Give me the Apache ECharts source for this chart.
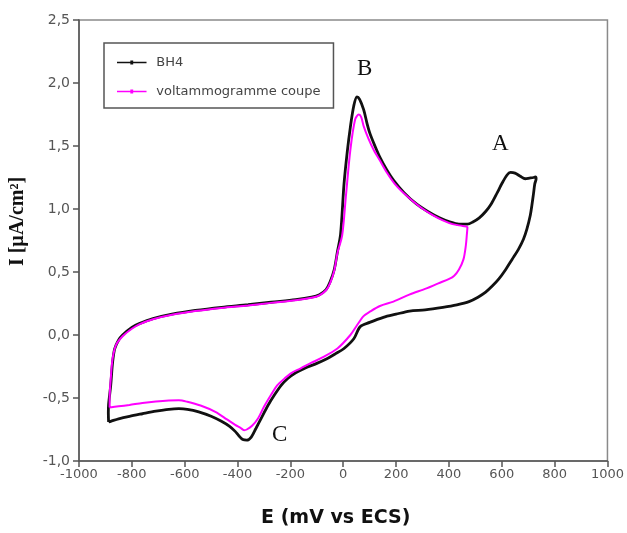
<!DOCTYPE html>
<html><head><meta charset="utf-8">
<script src="https://cdn.jsdelivr.net/npm/echarts@6/dist/echarts.min.js"></script>
<style>html,body{margin:0;padding:0;background:#fff}#c{width:627px;height:533px}</style>
</head><body><div id="c"></div>
<script>
// ---- data (E in mV vs ECS, I in µA/cm²) ----
const seriesNames = ['BH4', 'voltammogramme coupe'];
const bh4E = [-888,-889,-888,-880,-873,-865,-850,-835,-800,-772,-720,-648,-560,-461,-360,-273,-180,-120,-90,-65,-50,-34,-22,-10,3,15,27,40,52,62,77,90,101,120,139,165,190,230,277,320,364,400,438,470,489,515,539,560,583,600,620,633,650,670,689,705,720,727,730,
  725,720,714,708,695,682,663,639,615,589,565,539,510,476,430,377,310,251,200,152,100,64,40,3,-30,-60,-100,-147,-180,-210,-235,-260,-285,-310,-330,-348,-365,-380,-395,-409,-430,-461,-500,-547,-590,-622,-660,-709,-760,-809,-850,-880,-888];
const bh4I = [-0.69,-0.62,-0.55,-0.40,-0.22,-0.11,-0.04,0.0,0.06,0.09,0.13,0.165,0.195,0.22,0.24,0.26,0.28,0.30,0.32,0.36,0.42,0.52,0.66,0.80,1.20,1.45,1.65,1.82,1.89,1.87,1.79,1.68,1.60,1.50,1.41,1.31,1.23,1.13,1.04,0.98,0.93,0.90,0.88,0.88,0.895,0.93,0.98,1.04,1.13,1.20,1.27,1.29,1.285,1.26,1.24,1.245,1.25,1.255,1.24,
  1.20,1.12,1.03,0.95,0.84,0.76,0.68,0.60,0.52,0.445,0.39,0.34,0.30,0.265,0.24,0.22,0.20,0.19,0.165,0.14,0.10,0.066,-0.03,-0.107,-0.15,-0.186,-0.225,-0.265,-0.30,-0.345,-0.40,-0.475,-0.56,-0.66,-0.74,-0.81,-0.835,-0.83,-0.80,-0.765,-0.725,-0.685,-0.645,-0.61,-0.59,-0.585,-0.59,-0.605,-0.625,-0.645,-0.665,-0.685,-0.69];
const coupeE = [-884,-884,-880,-873,-860,-835,-800,-772,-720,-648,-560,-461,-360,-273,-180,-120,-90,-65,-50,-34,-22,-4,10,27,45,59,68,77,95,115,140,165,195,227,265,302,340,377,414,452,470,
  468,464,455,438,420,401,360,315,250,190,139,101,77,52,27,-22,-86,-120,-161,-195,-222,-250,-273,-300,-322,-345,-365,-375,-390,-409,-440,-484,-540,-590,-622,-660,-709,-760,-809,-850,-884];
const coupeI = [-0.575,-0.50,-0.35,-0.19,-0.08,-0.01,0.05,0.085,0.125,0.16,0.19,0.215,0.235,0.255,0.275,0.295,0.315,0.355,0.41,0.51,0.65,0.79,1.10,1.47,1.71,1.75,1.73,1.66,1.56,1.47,1.38,1.29,1.20,1.13,1.06,1.00,0.95,0.91,0.88,0.865,0.856,
  0.80,0.71,0.60,0.52,0.47,0.445,0.41,0.37,0.32,0.265,0.23,0.185,0.15,0.077,0.0,-0.107,-0.186,-0.22,-0.265,-0.30,-0.345,-0.40,-0.475,-0.57,-0.66,-0.72,-0.75,-0.755,-0.735,-0.713,-0.67,-0.61,-0.56,-0.53,-0.518,-0.52,-0.528,-0.54,-0.555,-0.566,-0.575];
const xTicks = [-1000,-800,-600,-400,-200,0,200,400,600,800,1000];
const yTicks = [-1.0,-0.5,0.0,0.5,1.0,1.5,2.0,2.5];
const yTickLabels = ['-1,0','-0,5','0,0','0,5','1,0','1,5','2,0','2,5'];
const peakLabels = ['A','B','C'];
const xTitle = 'E (mV vs ECS)';
const yTitle = 'I [µA/cm²]';

const zip = (a, b) => a.map((v, i) => [v, b[i]]);
const chart = echarts.init(document.getElementById('c'), null, {renderer: 'canvas'});
const legendIcon = 'path://M0,1.3 L31,1.3 L31,2.9 L0,2.9 Z M14,0 L17,0 L17,4.2 L14,4.2 Z';
chart.setOption({
  animation: false,
  backgroundColor: '#fff',
  grid: {left: 79, right: 14, top: 20, bottom: 70, show: true, borderColor: '#8a8a8a', borderWidth: 1.5, backgroundColor: 'transparent'},
  xAxis: {
    type: 'value', min: xTicks[0], max: xTicks[xTicks.length - 1], interval: 200,
    axisLine: {show: true, onZero: false, lineStyle: {color: '#555', width: 1.5}},
    axisTick: {show: true, inside: false, length: 6, lineStyle: {color: '#555', width: 1.5}},
    splitLine: {show: false},
    axisLabel: {margin: 7, formatter: v => String(v), color: '#555', fontFamily: 'DejaVu Sans', fontSize: 13},
    name: xTitle, nameLocation: 'middle', nameGap: 48,
    nameTextStyle: {fontFamily: 'DejaVu Sans', fontWeight: 'bold', fontSize: 19, color: '#111', padding: [0, 15, 0, 0]}
  },
  yAxis: {
    type: 'value', min: yTicks[0], max: yTicks[yTicks.length - 1], interval: 0.5,
    axisLine: {show: true, onZero: false, lineStyle: {color: '#555', width: 1.5}},
    axisTick: {show: true, inside: false, length: 6, lineStyle: {color: '#555', width: 1.5}},
    splitLine: {show: false},
    axisLabel: {margin: 9, color: '#555', fontFamily: 'DejaVu Sans', fontSize: 14, formatter: v => {
      const i = yTicks.findIndex(t => Math.abs(t - v) < 1e-9); return i >= 0 ? yTickLabels[i] : '';
    }},
    name: yTitle, nameLocation: 'middle', nameGap: 51, nameRotate: 90,
    nameTextStyle: {fontFamily: 'Liberation Serif', fontWeight: 'bold', fontSize: 20, color: '#111', padding: [0, 0, 0, 38]}
  },
  legend: {
    orient: 'vertical', left: 104, top: 43,
    padding: [13, 13, 10, 13], itemGap: 16, itemWidth: 31, itemHeight: 4,
    borderColor: '#555', borderWidth: 1.5, borderRadius: 0, icon: legendIcon,
    textStyle: {fontFamily: 'DejaVu Sans', fontSize: 13, color: '#444', padding: [0, 0, 0, 4]},
    data: seriesNames
  },
  series: [
    {name: seriesNames[0], type: 'line', data: zip(bh4E, bh4I), smooth: 0.3, symbol: 'circle', symbolSize: 3, showSymbol: false,
     lineStyle: {color: '#111', width: 2.8}, itemStyle: {color: '#111'}, z: 2},
    {name: seriesNames[1], type: 'line', data: zip(coupeE, coupeI), smooth: 0.3, symbol: 'circle', symbolSize: 3, showSymbol: false,
     lineStyle: {color: '#ff00ff', width: 2}, itemStyle: {color: '#ff00ff'}, z: 3}
  ],
  graphic: [
    {type: 'text', left: 492, top: 132, style: {text: peakLabels[0], font: '23px "Liberation Serif"', fill: '#111'}},
    {type: 'text', left: 357, top: 57, style: {text: peakLabels[1], font: '23px "Liberation Serif"', fill: '#111'}},
    {type: 'text', left: 272, top: 423, style: {text: peakLabels[2], font: '23px "Liberation Serif"', fill: '#111'}}
  ]
});
</script>
</body></html>
